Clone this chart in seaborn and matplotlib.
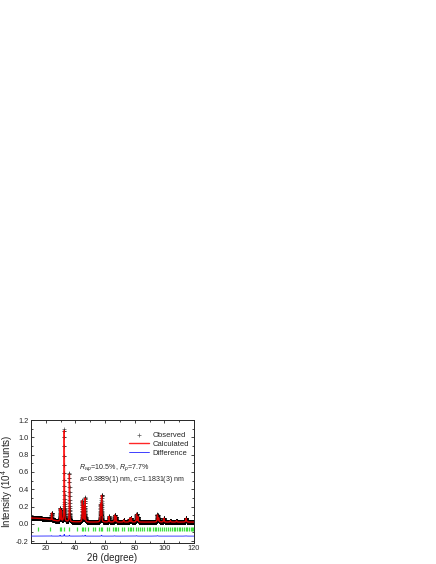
#!/usr/bin/python
# -*- coding: utf-8 -*-
"""Rietveld refinement plot: observed, calculated, difference"""

import numpy as np
import pandas as pd
import seaborn as sns
import matplotlib
matplotlib.use("Agg")
import matplotlib.pyplot as plt
from matplotlib.ticker import MultipleLocator, FormatStrFormatter


# background (2theta, intensity / 10^4 counts)
BG_X = [10, 15, 20, 24, 28, 35, 50, 80, 120]
BG_Y = [0.068, 0.064, 0.058, 0.045, 0.032, 0.024, 0.020, 0.020, 0.020]

# reflections: position, calculated height above background, observed height, fwhm
PEAK_POS = [23.9, 29.6, 30.4, 32.4, 35.9, 44.6, 45.4, 46.5, 56.9, 57.6,
            62.5, 66.4, 67.4, 72.5, 76.5, 77.6, 81.2, 82.1, 95.3, 96.1,
            99.6, 104.0, 108.2, 114.6]
PEAK_CALC = [0.08, 0.14, 0.12, 1.05, 0.55, 0.24, 0.18, 0.27, 0.20, 0.30,
             0.065, 0.08, 0.06, 0.025, 0.04, 0.05, 0.09, 0.06, 0.08, 0.045,
             0.045, 0.018, 0.015, 0.045]
PEAK_OBS = [0.085, 0.15, 0.12, 1.07, 0.56, 0.245, 0.18, 0.28, 0.20, 0.31,
            0.065, 0.085, 0.06, 0.025, 0.04, 0.05, 0.095, 0.06, 0.085, 0.045,
            0.045, 0.018, 0.015, 0.048]
PEAK_FWHM = [0.25, 0.25, 0.25, 0.25, 0.25, 0.28, 0.28, 0.28, 0.3, 0.3,
             0.32, 0.32, 0.32, 0.34, 0.34, 0.34, 0.36, 0.36, 0.42, 0.42,
             0.44, 0.46, 0.46, 0.5]

# Bragg reflection markers
BRAGG = [15.0, 22.9, 29.4, 30.2, 32.5, 35.9, 41.0, 44.5, 45.4, 46.6, 48.5,
         51.5, 53.2, 55.8, 57.0, 57.7, 61.5, 62.8, 65.3, 66.4, 67.4, 68.6,
         71.5, 73.0, 75.5, 76.6, 77.4, 79.0, 80.8, 82.0, 83.3, 85.0, 86.5,
         88.2, 89.4, 90.6, 92.0, 93.4, 94.6, 95.4, 96.8, 98.3, 99.6, 101.0,
         102.4, 103.5, 104.8, 106.2, 107.3, 108.5, 109.6, 110.8, 112.0,
         113.2, 114.3, 115.4, 116.5, 117.6, 118.7, 119.6]

STEP = 0.02
DIFF_OFFSET = -0.142
BRAGG_Y = -0.058


def profile(tt, heights):
    y = np.interp(tt, BG_X, BG_Y)
    for p, h, w in zip(PEAK_POS, heights, PEAK_FWHM):
        y += h / (1 + ((tt - p) / (w / 2)) ** 2)
    return y


def main():
    tt = np.arange(10, 120 + STEP, STEP)
    calc = profile(tt, PEAK_CALC)
    obs = profile(tt, PEAK_OBS)
    df = pd.DataFrame({'tt': tt, 'obs': obs, 'calc': calc,
                       'diff': obs - calc + DIFF_OFFSET})

    sns.set_style("ticks")
    plt.rcParams['font.family'] = ['Liberation Sans', 'DejaVu Sans']
    plt.rcParams['mathtext.fontset'] = 'custom'
    plt.rcParams['mathtext.rm'] = 'Liberation Sans'
    plt.rcParams['mathtext.it'] = 'Liberation Sans:italic'

    fig = plt.figure(figsize=(4.36, 5.64), dpi=100)
    ax = fig.add_axes([0.0711, 0.0372, 0.374, 0.218])

    sns.scatterplot(data=df, x='tt', y='obs', marker='+', s=10, color='black',
                    linewidth=0.55, alpha=0.6, label='Observed', ax=ax,
                    zorder=2)
    sns.lineplot(data=df, x='tt', y='calc', color='red', lw=1.0, alpha=0.85,
                 label='Calculated', ax=ax, zorder=3)
    sns.lineplot(data=df, x='tt', y='diff', color='#2020ff', lw=0.6,
                 label='Difference', ax=ax, zorder=3)
    sns.scatterplot(x=BRAGG, y=[BRAGG_Y] * len(BRAGG), marker='|', s=12,
                    color='#40e040', linewidth=0.9, ax=ax, zorder=2)

    ax.set_xlim(10, 120)
    ax.set_ylim(-0.222, 1.2)
    ax.xaxis.set_major_locator(MultipleLocator(20))
    ax.xaxis.set_minor_locator(MultipleLocator(10))
    ax.yaxis.set_major_locator(MultipleLocator(0.2))
    ax.yaxis.set_minor_locator(MultipleLocator(0.1))
    ax.yaxis.set_major_formatter(FormatStrFormatter('%.1f'))
    ax.tick_params(which='both', direction='in', top=True, right=True,
                   width=0.6, labelsize=5.3, pad=1.5)
    ax.tick_params(which='major', length=2.5)
    ax.tick_params(which='minor', length=1.5)
    for s in ax.spines.values():
        s.set_linewidth(0.7)

    ax.set_xlabel('2θ (degree)', fontsize=7, labelpad=0.5)
    ax.set_ylabel('Intensity (10$^4$ counts)', fontsize=7, labelpad=1)

    ax.legend(loc='upper left', bbox_to_anchor=(0.6, 0.905), frameon=False,
              fontsize=5.5, handlelength=2.6, handletextpad=0.5,
              labelspacing=0.2, borderpad=0, borderaxespad=0)

    ax.text(42.5, 0.64, '$R_{wp}$=10.5%, $R_p$=7.7%', fontsize=5.1)
    ax.text(42.5, 0.50, '$a$=0.3889(1) nm, $c$=1.1831(3) nm', fontsize=5.1)

    fig.savefig('out.png', dpi=100)


if __name__ == "__main__":
    main()
